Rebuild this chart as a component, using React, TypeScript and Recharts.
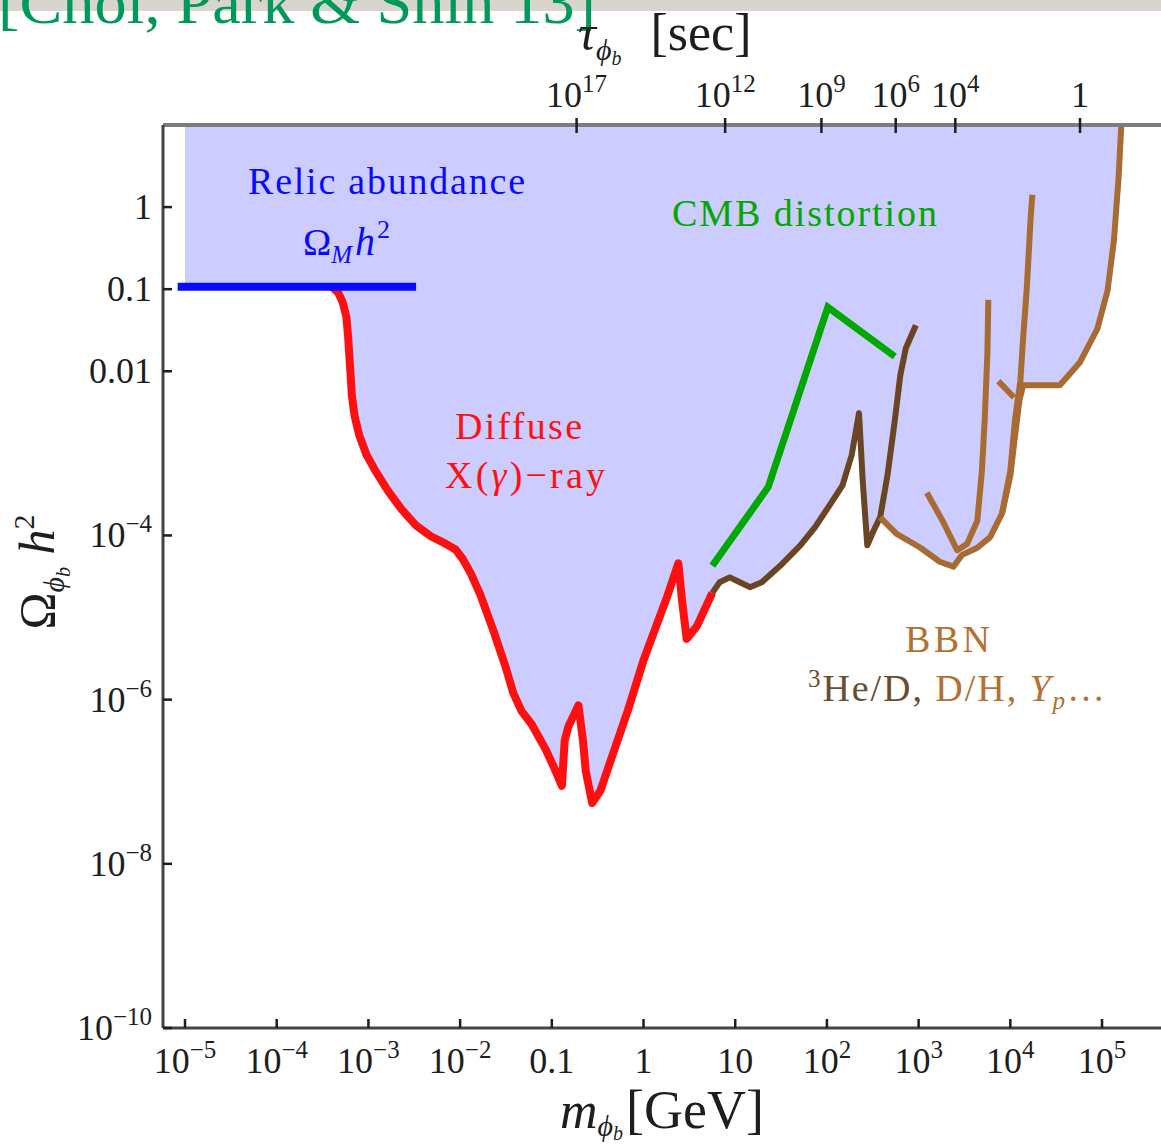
import React from 'react';
import { ComposedChart, Area, Line, XAxis, YAxis } from 'recharts';

// All values: x = log10(m_phi / GeV), y = log10(Omega_phi h^2)
const relicAbundance: [number, number][] = [[-5.08, -0.97], [-2.48, -0.97]];
const fillStartMass = -5.0;
const omegaTop = 1;

const diffuseXray: [number, number][] = [
  [-3.39, -0.98], [-3.33, -1.04], [-3.28, -1.16], [-3.24, -1.34], [-3.22, -1.60], [-3.20, -1.95],
  [-3.18, -2.30], [-3.15, -2.55], [-3.10, -2.78], [-3.02, -3.02], [-2.92, -3.22], [-2.79, -3.45],
  [-2.64, -3.68], [-2.48, -3.88], [-2.32, -4.01], [-2.16, -4.10], [-2.05, -4.17], [-1.97, -4.29],
  [-1.88, -4.47], [-1.78, -4.72], [-1.64, -5.15], [-1.51, -5.58], [-1.42, -5.92], [-1.33, -6.14],
  [-1.22, -6.30], [-1.07, -6.60], [-0.97, -6.84], [-0.89, -7.05], [-0.86, -6.50], [-0.82, -6.33],
  [-0.71, -6.07], [-0.66, -6.50], [-0.63, -6.87], [-0.56, -7.26], [-0.47, -7.11], [-0.33, -6.65],
  [-0.17, -6.13], [0.0, -5.52], [0.13, -5.13], [0.25, -4.77], [0.38, -4.34], [0.42, -4.79],
  [0.47, -5.26], [0.58, -5.11], [0.75, -4.70],
];

const bbnHeD: [number, number][] = [
  [0.75, -4.70], [0.83, -4.57], [0.94, -4.51], [1.05, -4.57], [1.16, -4.63], [1.29, -4.57],
  [1.49, -4.37], [1.71, -4.12], [1.87, -3.90], [2.03, -3.63], [2.17, -3.39], [2.27, -3.02],
  [2.35, -2.51], [2.39, -3.33], [2.44, -4.12], [2.51, -3.94], [2.58, -3.78], [2.66, -3.27],
  [2.74, -2.60], [2.80, -2.05], [2.86, -1.72], [2.97, -1.44],
];

const cmbDistortion: [number, number][] = [[0.75, -4.37], [1.36, -3.41], [2.01, -1.22], [2.74, -1.82]];

const bbnOuter: [number, number][] = [
  [2.58, -3.78], [2.76, -3.98], [3.02, -4.15], [3.23, -4.32], [3.38, -4.38], [3.47, -4.24],
  [3.64, -4.15], [3.78, -4.02], [3.91, -3.73], [4.0, -3.27], [4.05, -2.80], [4.10, -2.35],
  [4.14, -2.17], [4.54, -2.17], [4.76, -1.89], [4.95, -1.48], [5.06, -1.02], [5.13, -0.40],
  [5.18, 0.35], [5.21, 1.0],
];
const bbnV: [number, number][] = [
  [3.09, -3.48], [3.26, -3.82], [3.42, -4.18], [3.53, -4.10], [3.64, -3.82], [3.69, -3.21],
  [3.72, -2.60], [3.75, -1.78], [3.76, -1.13],
];
const bbnMid: [number, number][] = [
  [3.91, -3.73], [4.0, -3.21], [4.05, -2.60], [4.11, -2.11], [4.14, -1.59], [4.18, -0.98],
  [4.22, -0.16], [4.24, 0.15],
];
const bbnHook: [number, number][] = [[3.87, -2.12], [4.04, -2.32]];

const xTickValues = [-5, -4, -3, -2, -1, 0, 1, 2, 3, 4, 5];
const xTickLabels = ['10^−5', '10^−4', '10^−3', '10^−2', '0.1', '1', '10', '10^2', '10^3', '10^4', '10^5'];
const yTickValues = [0, -1, -2, -4, -6, -8, -10];
const yTickLabels = ['1', '0.1', '0.01', '10^−4', '10^−6', '10^−8', '10^−10'];
const tauTickMass = [-0.73, 0.89, 1.94, 2.75, 3.4, 4.76];
const tauTickLabels = ['10^17', '10^12', '10^9', '10^6', '10^4', '1'];

const xDomain: [number, number] = [-5.24, 5.643];
const yDomain: [number, number] = [-10, 1];

const W = 1161;
const H = 1148;
const PLOT_LEFT = 163;
const PLOT_TOP = 125;
const PLOT_BOTTOM = 1028;
const FONT = '"Liberation Serif", "Times New Roman", serif';
const INK = '#1e1e1e';

const RED = '#ff1010';
const BLUE = '#0a0aff';
const GREEN = '#00a800';
const DARK_BROWN = '#6a4524';
const LIGHT_BROWN = '#a86c33';

function SupText(props: { x: number; y: number; label: string; anchor: string; size: number; supSize: number }) {
  const { x, y, label, anchor, size, supSize } = props;
  const [base, exp] = label.split('^');
  return (
    <text x={x} y={y} textAnchor={anchor as any} fontFamily={FONT} fontSize={size} fill={INK}>
      {base}
      {exp !== undefined && (
        <tspan dy={-size * 0.42} fontSize={supSize}>
          {exp}
        </tspan>
      )}
    </text>
  );
}

const findIdx = (arr: number[], v: number) => arr.findIndex((a) => Math.abs(a - v) < 1e-6);

const BottomTick = (p: any) => {
  const i = findIdx(xTickValues, p.payload.value);
  return (
    <g>
      <line x1={p.x} x2={p.x} y1={PLOT_BOTTOM} y2={PLOT_BOTTOM - 9} stroke={INK} strokeWidth={2.5} />
      <SupText x={p.x} y={PLOT_BOTTOM + 45} label={xTickLabels[i] ?? ''} anchor="middle" size={36} supSize={25} />
    </g>
  );
};

const LeftTick = (p: any) => {
  const i = findIdx(yTickValues, p.payload.value);
  return (
    <g>
      <line x1={PLOT_LEFT} x2={PLOT_LEFT + 9} y1={p.y} y2={p.y} stroke={INK} strokeWidth={2.5} />
      <SupText x={152} y={p.y + 12} label={yTickLabels[i] ?? ''} anchor="end" size={36} supSize={25} />
    </g>
  );
};

const TopTick = (p: any) => {
  const i = findIdx(tauTickMass, p.payload.value);
  return (
    <g>
      <line x1={p.x} x2={p.x} y1={PLOT_TOP - 7} y2={PLOT_TOP + 8} stroke={INK} strokeWidth={2.5} />
      <SupText x={p.x} y={107} label={tauTickLabels[i] ?? ''} anchor="middle" size={36} supSize={25} />
    </g>
  );
};

const heDJoin = bbnHeD.findIndex((pt) => pt[0] >= bbnOuter[0][0]);
const fillEdge: [number, number][] = [
  [fillStartMass, relicAbundance[0][1]],
  ...diffuseXray,
  ...bbnHeD.slice(1, heDJoin),
  ...bbnOuter,
];

const toPts = (arr: [number, number][]) => arr.map(([x, y]) => ({ x, y }));

function Annotations() {
  return (
    <svg width={W} height={H} style={{ position: 'absolute', left: 0, top: 0, pointerEvents: 'none' }}>
      {/* banner remnant */}
      <rect x={0} y={0} width={W} height={11} fill="#d8d5ce" />
      <text x={-2} y={23} fontFamily={FONT} fontSize={62} fill="#00995a" textLength={598} lengthAdjust="spacingAndGlyphs">
        [Choi, Park &amp; Shin 13]
      </text>

      {/* top axis title */}
      <text x={578} y={50} fontFamily={FONT} fontSize={50} fill={INK}>
        <tspan fontStyle="italic">τ</tspan>
        <tspan fontSize={30} dy={10} fontStyle="italic">ϕ</tspan>
        <tspan fontSize={20} dy={5} fontStyle="italic">b</tspan>
        <tspan dy={-15} dx={16} fontSize={52}>{' [sec]'}</tspan>
      </text>

      {/* bottom axis title */}
      <text x={560} y={1128} fontFamily={FONT} fontSize={52} fill={INK}>
        <tspan fontStyle="italic">m</tspan>
        <tspan fontSize={30} dy={8} fontStyle="italic">ϕ</tspan>
        <tspan fontSize={20} dy={4} fontStyle="italic">b</tspan>
        <tspan dy={-12} dx={3} fontSize={54}>[GeV]</tspan>
      </text>

      {/* left axis title */}
      <text transform="translate(54,572) rotate(-90)" textAnchor="middle" fontFamily={FONT} fontSize={50} fill={INK}>
        Ω<tspan fontSize={30} dy={10} fontStyle="italic">ϕ</tspan>
        <tspan fontSize={20} dy={6} fontStyle="italic">b</tspan>
        <tspan dy={-16} fontStyle="italic">{' h'}</tspan>
        <tspan fontSize={30} dy={-20}>2</tspan>
      </text>

      {/* in-plot labels */}
      <text x={248} y={194} fontFamily={FONT} fontSize={38} fill={BLUE} textLength={277} lengthAdjust="spacing">
        Relic abundance
      </text>
      <text x={303} y={255} fontFamily={FONT} fontSize={38} fill={BLUE}>
        Ω<tspan fontSize={25} dy={8} fontStyle="italic">M</tspan>
        <tspan dy={-8} dx={3} fontSize={40} fontStyle="italic">h</tspan>
        <tspan fontSize={26} dy={-17} dx={2}>2</tspan>
      </text>
      <text x={672} y={226} fontFamily={FONT} fontSize={38} fill={GREEN} textLength={265} lengthAdjust="spacing">
        CMB distortion
      </text>
      <text x={455} y={439} fontFamily={FONT} fontSize={38} fill={RED} textLength={127} lengthAdjust="spacing">
        Diffuse
      </text>
      <text x={445} y={488} fontFamily={FONT} fontSize={38} fill={RED} textLength={160} lengthAdjust="spacing">
        X(<tspan fontStyle="italic">γ</tspan>)−ray
      </text>
      <text x={905} y={652} fontFamily={FONT} fontSize={38} fill="#b4702e" textLength={85} lengthAdjust="spacing">
        BBN
      </text>
      <text x={808} y={701} fontFamily={FONT} fontSize={38} fill="#b4702e" textLength={297} lengthAdjust="spacing">
        <tspan fill="#6b4c2e" fontSize={25} dy={-14}>3</tspan>
        <tspan fill="#6b4c2e" dy={14}>He/D,</tspan>
        <tspan> D/H, </tspan>
        <tspan fontStyle="italic">Y</tspan>
        <tspan fontStyle="italic" fontSize={25} dy={8}>p</tspan>
        <tspan dy={-8}>…</tspan>
      </text>
    </svg>
  );
}

export default function App() {
  const fillData = fillEdge.map(([x, y]) => ({ x, band: [y, omegaTop] }));
  return (
    <div style={{ position: 'absolute', left: 0, top: 0, width: W, height: H, background: '#fff', overflow: 'hidden' }}>
      <ComposedChart width={W} height={H} data={fillData} margin={{ top: 0, right: 0, bottom: 0, left: 0 }}>
        <Area
          dataKey="band"
          type="linear"
          stroke="none"
          fill="#ccccff"
          fillOpacity={1}
          isAnimationActive={false}
          dot={false}
          activeDot={false}
        />
        <Line data={toPts(diffuseXray)} dataKey="y" type="linear" stroke={RED} strokeWidth={8} dot={false} activeDot={false} isAnimationActive={false} strokeLinejoin="round" />
        <Line data={toPts(bbnHeD)} dataKey="y" type="linear" stroke={DARK_BROWN} strokeWidth={6} dot={false} activeDot={false} isAnimationActive={false} strokeLinejoin="round" />
        <Line data={toPts(cmbDistortion)} dataKey="y" type="linear" stroke={GREEN} strokeWidth={7} dot={false} activeDot={false} isAnimationActive={false} />
        <Line data={toPts(bbnOuter)} dataKey="y" type="linear" stroke={LIGHT_BROWN} strokeWidth={6} dot={false} activeDot={false} isAnimationActive={false} strokeLinejoin="round" />
        <Line data={toPts(bbnV)} dataKey="y" type="linear" stroke={LIGHT_BROWN} strokeWidth={6} dot={false} activeDot={false} isAnimationActive={false} strokeLinejoin="round" />
        <Line data={toPts(bbnMid)} dataKey="y" type="linear" stroke={LIGHT_BROWN} strokeWidth={6} dot={false} activeDot={false} isAnimationActive={false} strokeLinejoin="round" />
        <Line data={toPts(bbnHook)} dataKey="y" type="linear" stroke={LIGHT_BROWN} strokeWidth={6} dot={false} activeDot={false} isAnimationActive={false} />
        <Line data={toPts(relicAbundance)} dataKey="y" type="linear" stroke={BLUE} strokeWidth={8} dot={false} activeDot={false} isAnimationActive={false} />
        <XAxis
          type="number"
          dataKey="x"
          domain={xDomain}
          allowDataOverflow
          ticks={xTickValues}
          interval={0}
          height={H - PLOT_BOTTOM}
          axisLine={{ stroke: '#444', strokeWidth: 3 }}
          tickLine={false}
          tick={BottomTick}
        />
        <XAxis
          xAxisId="top"
          orientation="top"
          type="number"
          dataKey="x"
          domain={xDomain}
          allowDataOverflow
          ticks={tauTickMass}
          interval={0}
          height={PLOT_TOP}
          axisLine={{ stroke: '#7d7d7d', strokeWidth: 4 }}
          tickLine={false}
          tick={TopTick}
        />
        <YAxis
          type="number"
          domain={yDomain}
          allowDataOverflow
          ticks={yTickValues}
          interval={0}
          width={PLOT_LEFT}
          axisLine={{ stroke: '#444', strokeWidth: 3 }}
          tickLine={false}
          tick={LeftTick}
        />
      </ComposedChart>
      <Annotations />
    </div>
  );
}
